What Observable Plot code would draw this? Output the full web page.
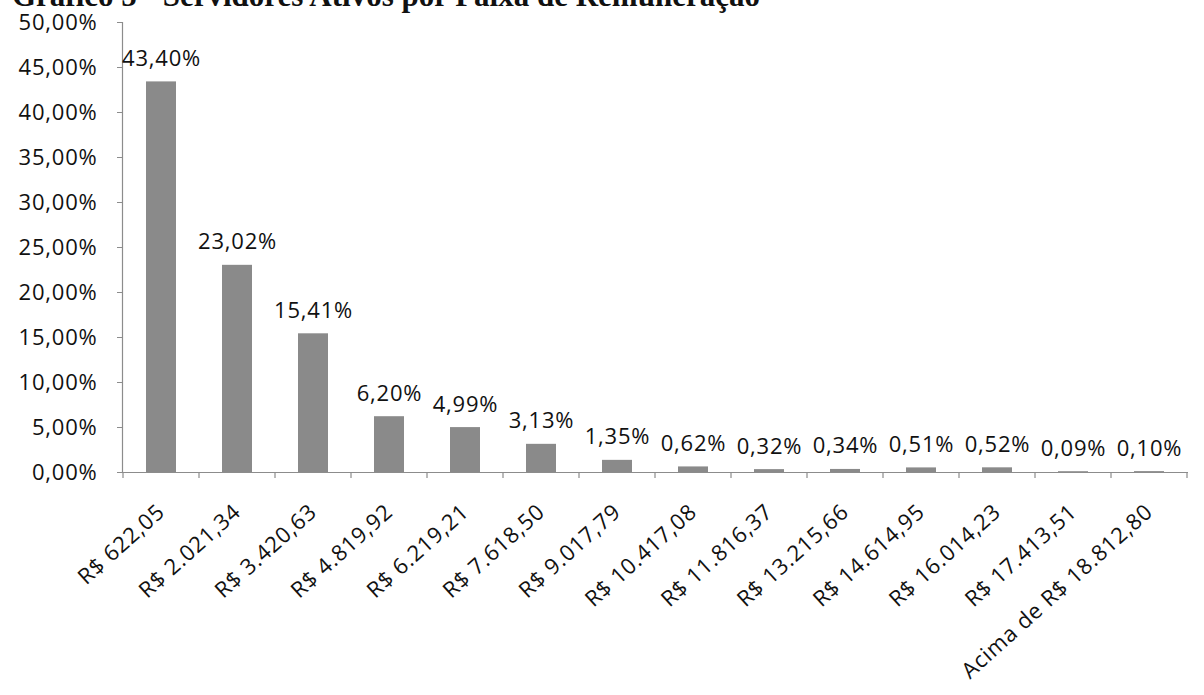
<!DOCTYPE html>
<html>
<head>
<meta charset="utf-8">
<script src="https://cdn.jsdelivr.net/npm/d3@7"></script>
<script src="https://cdn.jsdelivr.net/npm/@observablehq/plot@0.6"></script>
<style>
  html, body { margin: 0; padding: 0; background: #fff; }
  #wrap { position: relative; width: 1204px; height: 695px; overflow: hidden; }
  #title { position: absolute; left: 12px; top: -20px; font-family: "Liberation Serif", "Times New Roman", serif; font-weight: bold; font-size: 31px; line-height: 1; color: #111; white-space: nowrap; z-index: 2; }
  #chart { position: absolute; left: 0; top: 0; }
</style>
</head>
<body>
<div id="wrap">
  <div id="title">Gráfico 5 - Servidores Ativos por Faixa de Remuneração</div>
  <div id="chart"></div>
</div>
<script>
const categories = [
  "R$ 622,05", "R$ 2.021,34", "R$ 3.420,63", "R$ 4.819,92", "R$ 6.219,21",
  "R$ 7.618,50", "R$ 9.017,79", "R$ 10.417,08", "R$ 11.816,37", "R$ 13.215,66",
  "R$ 14.614,95", "R$ 16.014,23", "R$ 17.413,51", "Acima de R$ 18.812,80"
];
const values = [43.40, 23.02, 15.41, 6.20, 4.99, 3.13, 1.35, 0.62, 0.32, 0.34, 0.51, 0.52, 0.09, 0.10];
const yTicks = [0, 5, 10, 15, 20, 25, 30, 35, 40, 45, 50];

const data = categories.map((c, i) => ({ cat: c, value: values[i] }));
const fmt = v => v.toFixed(2).replace(".", ",") + "%";
const axisColor = "#8c8c8c";
const FONT = "'Open Sans', sans-serif";

const chart = Plot.plot({
  width: 1204,
  height: 695,
  marginLeft: 122,
  marginRight: 16,
  marginTop: 22,
  marginBottom: 223,
  style: { fontFamily: FONT, fontSize: "22px", color: "#111", background: "#fff", letterSpacing: "0.8px" },
  x: { domain: categories, paddingInner: 0.6, paddingOuter: 0.3, label: null },
  y: { domain: [0, 50], label: null },
  marks: [
    Plot.barY(data, { x: "cat", y: "value", fill: "#8a8a8a" }),
    Plot.ruleY([0], { stroke: axisColor, strokeWidth: 1.2 }),
    Plot.frame({ anchor: "left", stroke: axisColor, strokeWidth: 1.2 }),
    Plot.axisY({ ticks: yTicks, tickFormat: fmt, tickSize: 5, tickPadding: 20, stroke: axisColor, fill: "#111", fontSize: 22, label: null }),
    Plot.axisX({ tickSize: 0, tickPadding: 36, tickRotate: -42, fontSize: 22, fill: "#111", label: null }),
    Plot.text(data, { x: "cat", y: "value", text: d => fmt(d.value), dy: -16, lineAnchor: "bottom", fontSize: 22, fill: "#111" })
  ]
});

document.getElementById("chart").appendChild(chart);

// Excel-style category boundary ticks under the baseline, from Plot's x scale
const xs = chart.scale("x");
const ys = chart.scale("y");
const bounds = categories.map(c => xs.apply(c) - (xs.step - xs.bandwidth) / 2);
bounds.push(xs.apply(categories[categories.length - 1]) + xs.bandwidth + (xs.step - xs.bandwidth) / 2);
const y0 = ys.apply(0);
d3.select(chart).append("g")
  .attr("stroke", axisColor)
  .attr("stroke-width", 1.2)
  .selectAll("line")
  .data(bounds)
  .join("line")
  .attr("x1", d => d).attr("x2", d => d)
  .attr("y1", y0).attr("y2", y0 + 6);
</script>
</body>
</html>
